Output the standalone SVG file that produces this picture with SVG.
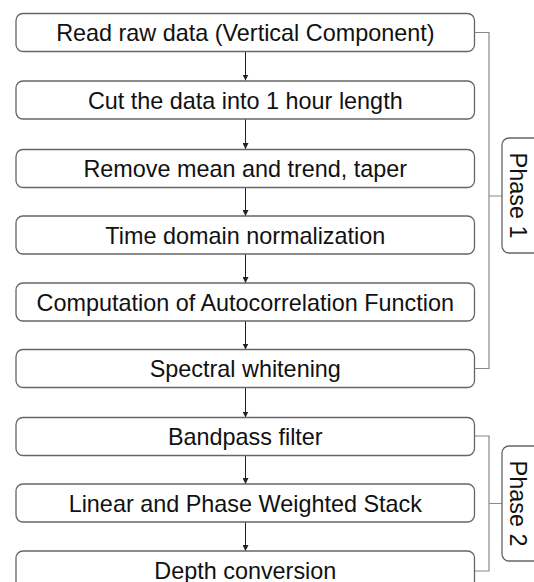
<svg xmlns="http://www.w3.org/2000/svg" width="534" height="582" viewBox="0 0 534 582">
<style>
.box{fill:#fff;stroke:#666;stroke-width:1.3}
.t{font-family:"Liberation Sans",Arial,sans-serif;font-size:23.4px;fill:#111;text-anchor:middle}
.br{fill:none;stroke:#888;stroke-width:1.2}
.ar{fill:none;stroke:#222;stroke-width:1}
</style>
<defs>
<marker id="ah" viewBox="0 0 8 8" refX="8" refY="4" markerWidth="6" markerHeight="6" markerUnits="userSpaceOnUse" orient="auto">
<path d="M0,0 L8,4 L0,8 z" fill="#222"/>
</marker>
</defs>
<rect width="534" height="582" fill="#fff"/>
<g id="connectors">
<line class="ar" x1="245.5" y1="51.5" x2="245.5" y2="80.5" marker-end="url(#ah)"/>
<line class="ar" x1="245.5" y1="119" x2="245.5" y2="149" marker-end="url(#ah)"/>
<line class="ar" x1="245.5" y1="187.5" x2="245.5" y2="216" marker-end="url(#ah)"/>
<line class="ar" x1="245.5" y1="254" x2="245.5" y2="283" marker-end="url(#ah)"/>
<line class="ar" x1="245.5" y1="321" x2="245.5" y2="349.5" marker-end="url(#ah)"/>
<line class="ar" x1="245.5" y1="387.5" x2="245.5" y2="417.5" marker-end="url(#ah)"/>
<line class="ar" x1="245.5" y1="455.5" x2="245.5" y2="484" marker-end="url(#ah)"/>
<line class="ar" x1="245.5" y1="522" x2="245.5" y2="551" marker-end="url(#ah)"/>
<path class="br" d="M474.5,32.5 H489 V368.5 H474.5 M489,196 H502"/>
<path class="br" d="M474.5,436 H489 V571 H474.5 M489,503.5 H502"/>
</g>
<g id="n1"><rect class="box" x="16" y="13.5" width="458.5" height="38" rx="7"/><text class="t" x="245.3" y="41.3">Read raw data (Vertical Component)</text></g>
<g id="n2"><rect class="box" x="16" y="81" width="458.5" height="38" rx="7"/><text class="t" x="245.3" y="108.8">Cut the data into 1 hour length</text></g>
<g id="n3"><rect class="box" x="16" y="149.5" width="458.5" height="38" rx="7"/><text class="t" x="245.3" y="177.3">Remove mean and trend, taper</text></g>
<g id="n4"><rect class="box" x="16" y="216" width="458.5" height="38" rx="7"/><text class="t" x="245.3" y="243.8">Time domain normalization</text></g>
<g id="n5"><rect class="box" x="16" y="283" width="458.5" height="38" rx="7"/><text class="t" x="245.3" y="310.8">Computation of Autocorrelation Function</text></g>
<g id="n6"><rect class="box" x="16" y="349.5" width="458.5" height="38" rx="7"/><text class="t" x="245.3" y="377.3">Spectral whitening</text></g>
<g id="n7"><rect class="box" x="16" y="417.5" width="458.5" height="38" rx="7"/><text class="t" x="245.3" y="445.3">Bandpass filter</text></g>
<g id="n8"><rect class="box" x="16" y="484" width="458.5" height="38" rx="7"/><text class="t" x="245.3" y="511.8">Linear and Phase Weighted Stack</text></g>
<g id="n9"><rect class="box" x="16" y="551" width="458.5" height="38" rx="7"/><text class="t" x="245.3" y="578.8">Depth conversion</text></g>
<g id="phase1"><rect class="box" x="502" y="138" width="44" height="115" rx="7"/><text class="t" transform="translate(509.5,195.5) rotate(90)" x="0" y="0">Phase 1</text></g>
<g id="phase2"><rect class="box" x="502" y="446" width="44" height="115" rx="7"/><text class="t" transform="translate(509.5,503.5) rotate(90)" x="0" y="0">Phase 2</text></g>
</svg>
